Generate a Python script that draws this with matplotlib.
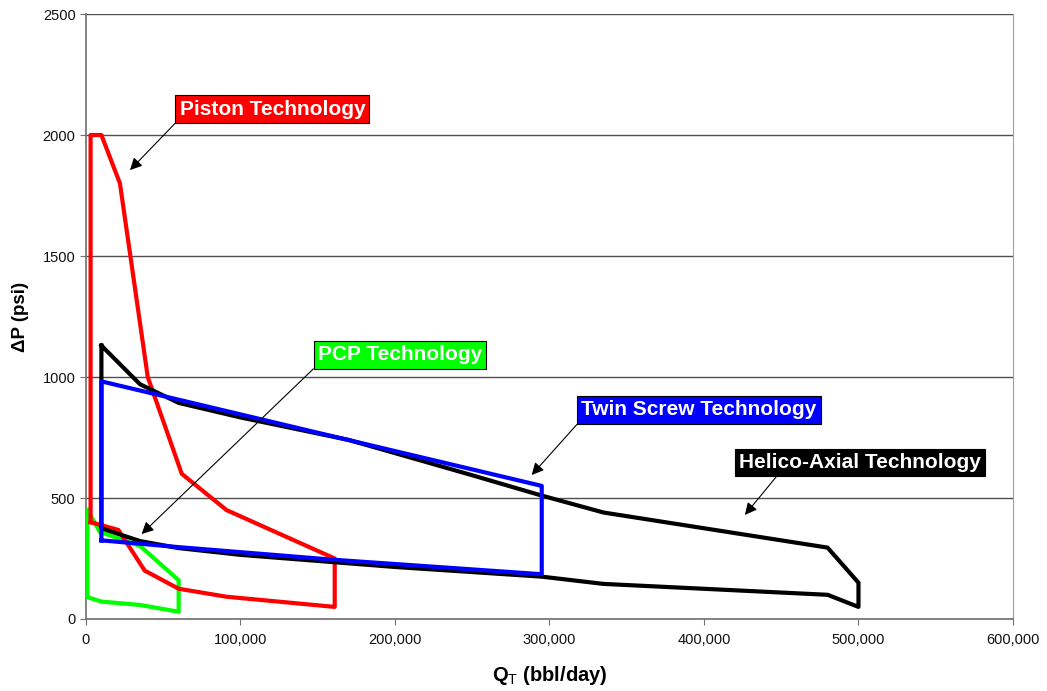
import matplotlib
matplotlib.use("Agg")
import matplotlib.pyplot as plt
from matplotlib.ticker import FuncFormatter, MultipleLocator

plt.rcParams["font.family"] = ["Liberation Sans", "DejaVu Sans"]
plt.rcParams["mathtext.fontset"] = "custom"
plt.rcParams["mathtext.rm"] = "Liberation Sans"
plt.rcParams["mathtext.bf"] = "Liberation Sans:bold"

# ── envelope data (Q in bbl/day, dP in psi) ───────────────────────────
piston_q = [3000, 3000, 10000, 22000, 40000, 62000, 91000, 161000,
            161000, 91000, 60000, 38000, 21000, 3000]
piston_dp = [400, 2000, 2000, 1800, 1000, 600, 450, 250,
             50, 92, 125, 200, 368, 400]

helico_q = [10000, 35000, 60000, 100000, 170000, 203000, 250000, 295000,
            335000, 480000, 500000, 500000, 480000, 335000, 295000,
            200000, 100000, 60000, 35000, 10000, 10000]
helico_dp = [1130, 970, 893, 833, 740, 680, 594, 510,
             440, 295, 150, 50, 100, 145, 175,
             215, 265, 293, 322, 375, 1130]

twin_q = [10000, 10000, 295000, 295000, 160000, 60000, 10000]
twin_dp = [325, 982, 550, 185, 245, 297, 325]

pcp_q = [1000, 9000, 35000, 60000, 60000, 35000, 10000, 1000, 1000]
pcp_dp = [450, 360, 302, 160, 30, 58, 72, 90, 450]

fig = plt.figure(figsize=(10.47, 6.91), dpi=100)
ax = fig.add_axes([0.0821, 0.1042, 0.8854, 0.8755])

ax.set_xlim(0, 600000)
ax.set_ylim(0, 2500)
ax.yaxis.set_major_locator(MultipleLocator(500))
ax.xaxis.set_major_locator(MultipleLocator(100000))
ax.xaxis.set_major_formatter(FuncFormatter(lambda v, p: f"{int(v):,}"))
ax.grid(True, axis="y", color="#505050", linewidth=1.0)
ax.set_axisbelow(True)

for s in ["left", "bottom"]:
    ax.spines[s].set_color("#707070")
    ax.spines[s].set_linewidth(1.2)
ax.spines["right"].set_color("#a0a0a0")
ax.spines["top"].set_visible(False)
ax.tick_params(direction="out", length=4, color="#707070", labelsize=10.5,
               labelcolor="#111111")
ax.tick_params(axis="x", pad=6)

lw = 3.0
ax.plot(pcp_q, pcp_dp, color="#00ff00", lw=lw, zorder=3)
ax.plot(piston_q, piston_dp, color="#ff0000", lw=lw, zorder=3)
ax.plot(helico_q, helico_dp, color="black", lw=lw, zorder=3)
ax.plot(twin_q, twin_dp, color="#0000ff", lw=lw, zorder=4)

ax.set_ylabel("ΔP (psi)", fontsize=13.5, fontweight="bold", labelpad=10)
ax.set_xlabel(r"$\mathbf{Q}_{\mathrm{T}}$ (bbl/day)", fontsize=14.5,
              fontweight="bold", labelpad=12)

# ── callout labels ────────────────────────────────────────────────────
labels = [
    ("Piston Technology", "#ff0000", (120700, 2107), (28500, 1855), 0.0),
    ("PCP Technology", "#00ff00", (203300, 1091), (36000, 351), 0.0),
    ("Twin Screw Technology", "#0000ff", (396800, 864), (288500, 595), 0.0),
    ("Helico-Axial Technology", "black", (500900, 646), (426500, 430), 0.17),
]
for text, col, txy, axy, rx in labels:
    ax.annotate(text, xy=axy, xytext=txy, ha="center", va="center",
                fontsize=15, fontweight="bold", color="white", zorder=6,
                bbox=dict(boxstyle="square,pad=0.2", fc=col, ec="black",
                          lw=0.8),
                arrowprops=dict(arrowstyle="-|>", color="black", lw=0.8,
                                mutation_scale=18, relpos=(rx, 0),
                                shrinkA=0, shrinkB=0))

fig.savefig("out.png", dpi=100)
